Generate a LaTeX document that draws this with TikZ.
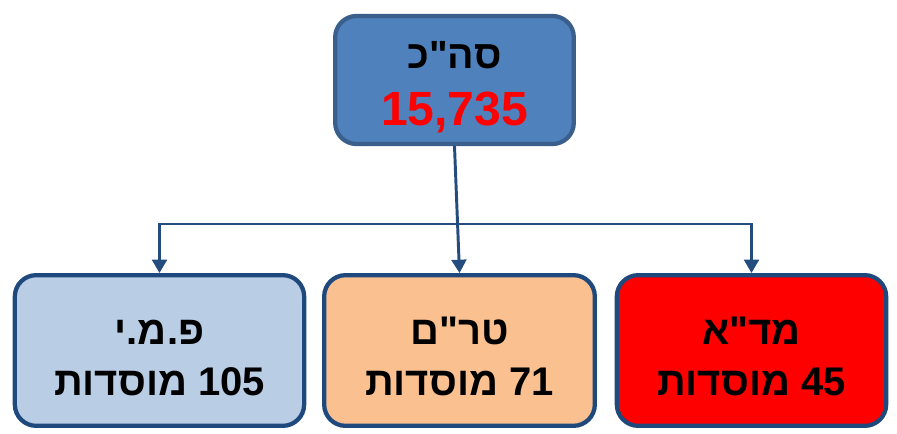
\documentclass[tikz,border=0pt]{standalone}
\usepackage{fontspec}
\setmainfont{Liberation Sans}
\newfontfamily\hebfont[Script=Hebrew]{Liberation Sans}
\TeXXeTstate=1
\usetikzlibrary{arrows.meta}
\definecolor{topfill}{HTML}{4F81BD}
\definecolor{topdraw}{HTML}{3A5F8C}
\definecolor{boxdraw}{HTML}{1F497D}
\definecolor{connc}{HTML}{244C7F}
\definecolor{pmyfill}{HTML}{B9CDE5}
\definecolor{trmfill}{HTML}{FAC090}
\definecolor{mdafill}{HTML}{FF0000}
\newcommand{\topstrut}{\rule{0pt}{31.5pt}}
\newcommand{\botstrut}{\rule{0pt}{30pt}}
\tikzset{
  box/.style={draw=boxdraw, line width=3.2pt, rounded corners=16pt,
    minimum height=113pt, align=center, inner sep=0pt,
    font=\hebfont\bfseries\fontsize{30}{38.25}\selectfont},
  conn/.style={draw=connc, line width=2.2pt,
    -{Triangle[width=11pt,length=10pt]}}
}
\begin{document}
\begin{tikzpicture}[x=0.75pt,y=-0.75pt]
\useasboundingbox (0,0) rectangle (897,433);
\node[box, draw=topdraw, fill=topfill, minimum width=179pt, minimum height=96pt,
  font=\hebfont\bfseries\fontsize{29.5}{42.75}\selectfont] (tot) at (454.5,80)
  {\topstrut\beginR סה"כ\endR\\
   \color{red}\fontsize{36}{42.75}\selectfont 15,735};
\node[box, fill=pmyfill, minimum width=217pt] (pmy) at (159.5,350.5)
  {\botstrut\beginR פ.מ.י\endR\\ \beginR\beginL 105\endL{} מוסדות\endR};
\node[box, fill=trmfill, minimum width=203pt] (trm) at (459.5,350.5)
  {\botstrut\beginR טר"ם\endR\\ \beginR\beginL 71\endL{} מוסדות\endR};
\node[box, fill=mdafill, minimum width=202pt] (mda) at (751.5,350.5)
  {\botstrut\beginR מד"א\endR\\ \beginR\beginL 45\endL{} מוסדות\endR};
\coordinate (h) at (454.5,224);
\draw[conn] (tot.south) -- (trm.north);
\draw[conn, {Triangle[width=11pt,length=10pt]}-{Triangle[width=11pt,length=10pt]}] (pmy.north) |- (h) -| (mda.north);
\end{tikzpicture}
\end{document}
